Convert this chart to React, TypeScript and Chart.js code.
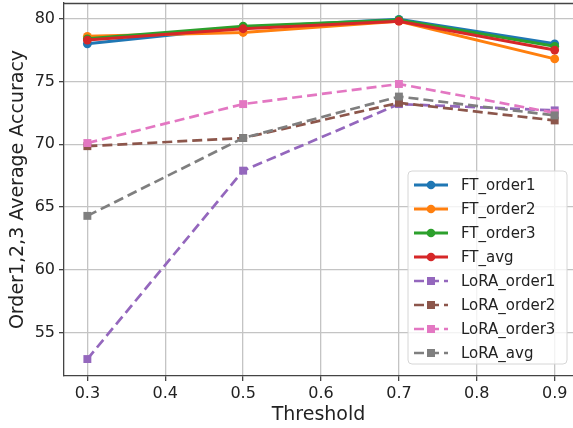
import React, { useEffect, useRef } from "react";
import { Chart, registerables } from "chart.js";

Chart.register(...registerables);

const thresholds = [0.3, 0.5, 0.7, 0.9];
const ftOrder1 = [78.0, 79.3, 79.95, 78.0];
const ftOrder2 = [78.6, 78.9, 79.8, 76.8];
const ftOrder3 = [78.4, 79.4, 79.9, 77.8];
const ftAvg = [78.3, 79.2, 79.8, 77.5];
const loraOrder1 = [52.9, 67.9, 73.2, 72.7];
const loraOrder2 = [69.85, 70.5, 73.3, 71.9];
const loraOrder3 = [70.1, 73.2, 74.8, 72.5];
const loraAvg = [64.3, 70.5, 73.8, 72.3];

const seriesNames = [
  "FT_order1",
  "FT_order2",
  "FT_order3",
  "FT_avg",
  "LoRA_order1",
  "LoRA_order2",
  "LoRA_order3",
  "LoRA_avg",
];
const seriesValues = [ftOrder1, ftOrder2, ftOrder3, ftAvg, loraOrder1, loraOrder2, loraOrder3, loraAvg];
const seriesColors = ["#1f77b4", "#ff7f0e", "#2ca02c", "#d62728", "#9467bd", "#8c564b", "#e377c2", "#7f7f7f"];

const xTickValues = [0.3, 0.4, 0.5, 0.6, 0.7, 0.8, 0.9];
const yTickValues = [55, 60, 65, 70, 75, 80];

const FONT = "'DejaVu Sans', sans-serif";
const DASH = [10, 5];
const FT_W = 3;
const LORA_W = 2.7;

const isLora = (i: number) => i >= 4;

const legendPlugin = {
  id: "mplLegend",
  afterDraw(chart: any) {
    const { ctx, chartArea } = chart;
    const w = 159;
    const h = 193;
    const right = 567;
    const bottom = chartArea.bottom - 12;
    const left = right - w;
    const top = bottom - h;
    ctx.save();
    const r = 4;
    ctx.beginPath();
    ctx.moveTo(left + r, top);
    ctx.lineTo(left + w - r, top);
    ctx.quadraticCurveTo(left + w, top, left + w, top + r);
    ctx.lineTo(left + w, top + h - r);
    ctx.quadraticCurveTo(left + w, top + h, left + w - r, top + h);
    ctx.lineTo(left + r, top + h);
    ctx.quadraticCurveTo(left, top + h, left, top + h - r);
    ctx.lineTo(left, top + r);
    ctx.quadraticCurveTo(left, top, left + r, top);
    ctx.closePath();
    ctx.fillStyle = "rgba(255,255,255,0.8)";
    ctx.fill();
    ctx.strokeStyle = "#d6d6d6";
    ctx.lineWidth = 1;
    ctx.stroke();

    seriesNames.forEach((name, i) => {
      const cy = top + 14 + i * 24;
      const x0 = left + 6;
      const x1 = left + 40;
      const mx = (x0 + x1) / 2;
      ctx.strokeStyle = seriesColors[i];
      ctx.fillStyle = seriesColors[i];
      ctx.lineWidth = isLora(i) ? LORA_W : FT_W;
      ctx.setLineDash(isLora(i) ? DASH : []);
      ctx.beginPath();
      ctx.moveTo(x0, cy);
      ctx.lineTo(x1, cy);
      ctx.stroke();
      ctx.setLineDash([]);
      if (isLora(i)) {
        ctx.fillRect(mx - 4, cy - 4, 8, 8);
      } else {
        ctx.beginPath();
        ctx.arc(mx, cy, 4.3, 0, Math.PI * 2);
        ctx.fill();
      }
      ctx.fillStyle = "#222";
      ctx.font = `15px ${FONT}`;
      ctx.textAlign = "left";
      ctx.textBaseline = "middle";
      ctx.fillText(name, left + 53, cy + 1);
    });
    ctx.restore();
  },
};

const framePlugin = {
  id: "frame",
  afterDatasetsDraw(chart: any) {
    const { ctx, chartArea } = chart;
    ctx.save();
    ctx.strokeStyle = "#444";
    ctx.lineWidth = 1.3;
    ctx.beginPath();
    ctx.moveTo(chartArea.left, chartArea.top + 0.5);
    ctx.lineTo(chartArea.right, chartArea.top + 0.5);
    ctx.stroke();
    ctx.restore();
  },
};

export default function App() {
  const ref = useRef<HTMLCanvasElement | null>(null);
  useEffect(() => {
    if (!ref.current) return;
    const datasets = seriesNames.map((name, i) => ({
      label: name,
      data: thresholds.map((x, j) => ({ x, y: seriesValues[i][j] })),
      borderColor: seriesColors[i],
      backgroundColor: seriesColors[i],
      borderWidth: isLora(i) ? LORA_W : FT_W,
      borderDash: isLora(i) ? DASH : [],
      pointStyle: isLora(i) ? "rect" : "circle",
      pointRadius: isLora(i) ? 5.6 : 4.4,
      pointBorderWidth: 0,
      tension: 0,
      clip: false,
      order: 7 - i,
    }));
    const chart = new Chart(ref.current, {
      type: "line",
      data: { datasets },
      plugins: [framePlugin, legendPlugin],
      options: {
        animation: false,
        responsive: false,
        devicePixelRatio: 1,
        layout: { autoPadding: false, padding: { top: 3, right: 0, left: 0, bottom: 0 } },
        plugins: { legend: { display: false }, tooltip: { enabled: false } },
        scales: {
          x: {
            type: "linear",
            min: 0.27,
            max: 0.9235,
            afterFit: (s: any) => {
              s.height = 52;
              s.paddingLeft = 0;
              s.paddingRight = 0;
            },
            afterBuildTicks: (s: any) => {
              s.ticks = xTickValues.map((v) => ({ value: v }));
            },
            ticks: {
              autoSkip: false,
              maxRotation: 0,
              padding: 3,
              color: "#222",
              font: { family: FONT, size: 16 },
              callback: (v: any) => Number(v).toFixed(1),
            },
            grid: { color: "#c4c4c4", lineWidth: 1.3, tickLength: 5, tickColor: "#444" },
            border: { color: "#444", width: 1.3 },
            title: {
              display: true,
              text: "Threshold",
              color: "#222",
              font: { family: FONT, size: 19 },
              padding: { top: 0, bottom: 2 },
            },
          },
          y: {
            type: "linear",
            min: 51.55,
            max: 81.25,
            afterFit: (s: any) => {
              s.width = 64;
              s.paddingTop = 0;
              s.paddingBottom = 0;
            },
            afterBuildTicks: (s: any) => {
              s.ticks = yTickValues.map((v) => ({ value: v }));
            },
            ticks: {
              autoSkip: false,
              padding: 4,
              color: "#222",
              font: { family: FONT, size: 16 },
            },
            grid: { color: "#c4c4c4", lineWidth: 1.3, tickLength: 5, tickColor: "#444" },
            border: { color: "#444", width: 1.3 },
            title: {
              display: true,
              text: "Order1,2,3 Average Accuracy",
              color: "#222",
              font: { family: FONT, size: 19 },
              padding: { top: 7, bottom: 0 },
            },
          },
        },
      },
    } as any);
    return () => chart.destroy();
  }, []);
  return (
    <div style={{ position: "absolute", left: 0, top: 0, width: 573, height: 428, background: "#fff" }}>
      <canvas ref={ref} width={573} height={428} style={{ width: 573, height: 428, display: "block" }} />
    </div>
  );
}
